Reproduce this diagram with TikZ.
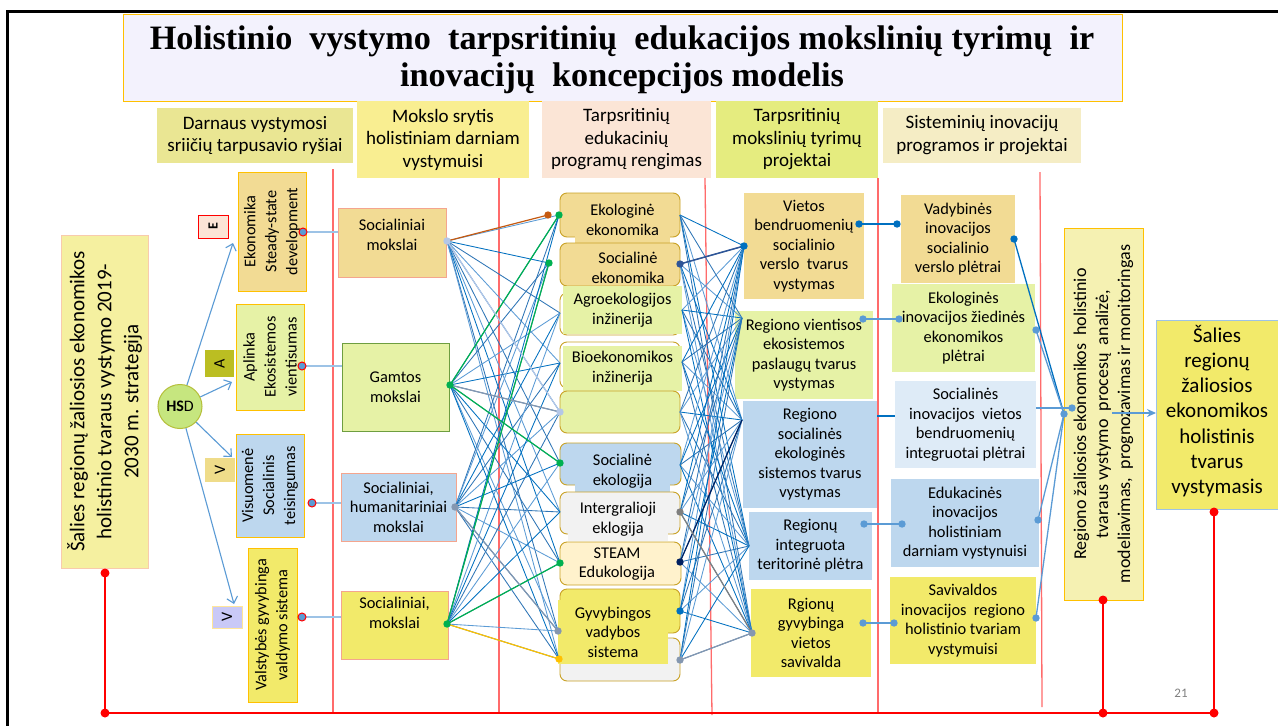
\documentclass[tikz,border=0pt]{standalone}
\usepackage{fontspec}
\setmainfont{Carlito}
\newfontfamily\titlefont{Liberation Serif}
\usetikzlibrary{arrows.meta}
\definecolor{cTan}{HTML}{F2DB94}
\definecolor{cGrn}{HTML}{E6F2A6}
\definecolor{cBlu}{HTML}{BDD7EE}
\definecolor{cBluX}{HTML}{DEEBF7}
\definecolor{cYel}{HTML}{F2EA6A}
\definecolor{cGold}{HTML}{FFC000}
\definecolor{cSalm}{HTML}{F4A58E}
\definecolor{cPeach}{HTML}{FCE4D6}
\definecolor{cGryL}{HTML}{F2F2F2}
\definecolor{cCream}{HTML}{FFF2CC}
\definecolor{cTitle}{HTML}{F3F2FD}
\definecolor{cHa}{HTML}{EAE693}
\definecolor{cHb}{HTML}{F9EE91}
\definecolor{cHc}{HTML}{FBE5D6}
\definecolor{cHd}{HTML}{E5EC7F}
\definecolor{cHe}{HTML}{F5EDC5}
\definecolor{cStrat}{HTML}{F5F0A0}
\definecolor{cStratB}{HTML}{F8CBAD}
\definecolor{cTall}{HTML}{F5F1B2}
\definecolor{cHSD}{HTML}{C6E67F}
\definecolor{cHSDb}{HTML}{B5BF3A}
\definecolor{cOlive}{HTML}{BBBE22}
\definecolor{cVtan}{HTML}{EFDC8A}
\definecolor{cLav}{HTML}{C9C9F7}
\definecolor{cLavB}{HTML}{FFE699}
\definecolor{cGamB}{HTML}{6E9E40}
\definecolor{cRBord}{HTML}{C9A227}
\definecolor{ln0}{HTML}{2E75B6}
\definecolor{ln1}{HTML}{5B9BD5}
\definecolor{ln2}{HTML}{0070C0}
\definecolor{lnPale}{HTML}{9DC3E6}
\definecolor{cGreen}{HTML}{00B050}
\definecolor{cBrown}{HTML}{C55A11}
\definecolor{cNavy}{HTML}{002060}
\definecolor{cDark}{HTML}{2F5597}
\definecolor{cGray}{HTML}{7F7F7F}
\definecolor{cGrayB}{HTML}{8497B0}
\definecolor{cGrayL}{HTML}{B4C7E7}
\definecolor{cSep}{HTML}{FF6B6B}
\definecolor{cRed}{HTML}{FF0000}
\tikzset{
  bx/.style={inner sep=0pt, outer sep=0pt, align=center},
  fnt/.style={font=\fontsize{16.4}{19.5}\selectfont},
  hfnt/.style={font=\fontsize{19}{22.5}\selectfont},
  lfnt/.style={font=\fontsize{16.3}{21}\selectfont},
  rnd/.style={rounded corners=7pt, draw=cRBord, line width=0.9pt},
  sepline/.style={draw=cSep, line width=1.3pt},
  redline/.style={draw=cRed, line width=1.5pt},
  mesh/.style={line width=0.85pt},
  hl/.style={line width=1.2pt},
  arr/.style={draw=ln1, line width=1.1pt, -{Straight Barb[length=6pt,width=11pt]}},
  link/.style={line width=1.3pt},
}
\newcommand\mydot[2]{\fill[#1] (#2) circle (3.7pt);}
\newcommand\reddot[1]{\fill[cRed] (#1) circle (4.5pt);}
\newcommand\rbdot[1]{\filldraw[fill=ln1, draw=cRed, line width=1pt] (#1) circle (4pt);}
\begin{document}
\begin{tikzpicture}[x=1pt,y=-1pt]
\useasboundingbox (0,0) rectangle (1278,726);
\fill[white] (0,0) rectangle (1278,726);
\draw[line width=3pt] (7.5,726) -- (7.5,11.5) -- (1278,11.5);

% title
\node[bx, fill=cTitle, draw=cGold, line width=1pt, minimum width=999pt, minimum height=87pt] (title) at (622.5,57.5) {};
\node[bx, font=\titlefont\bfseries\fontsize{34.2}{37.5}\selectfont] (titlet) at (622,60)
  {Holistinio\ \ vystymo\ \ tarpsritinių\ \ edukacijos mokslinių tyrimų\ \ ir\\inovacijų\ \ koncepcijos modelis};

% headers
\node[bx,hfnt,fill=cHa,minimum width=196pt,minimum height=55pt] (h1) at (255,135.5) {Darnaus vystymosi\\sriičių tarpusavio ryšiai};
\node[bx,hfnt,fill=cHb,minimum width=172pt,minimum height=77pt] (h2) at (443,139.5) {Mokslo srytis\\holistiniam darniam\\vystymuisi};
\node[bx,hfnt,fill=cHc,minimum width=169pt,minimum height=77pt] (h3) at (626.5,139.5) {Tarpsritinių\\edukacinių\\programų rengimas};
\node[bx,hfnt,fill=cHd,minimum width=162pt,minimum height=77pt] (h4) at (797,139.5) {Tarpsritinių\\mokslinių tyrimų\\projektai};
\node[bx,hfnt,fill=cHe,minimum width=198pt,minimum height=55pt] (h5) at (982,135) {Sisteminių inovacijų\\programos ir projektai};

% separators
\draw[sepline] (333,169) -- (333,713);
\draw[sepline] (499,178) -- (499,713);
\draw[sepline] (705,178) -- (712,715);
\draw[sepline] (878,178) -- (878,713);
\draw[sepline] (1040,172) -- (1042,707);

% strategy box
\node[bx, rotate=90, fill=cStrat, draw=cStratB, line width=0.8pt, minimum width=333pt, minimum height=87pt,
  font=\fontsize{21}{27}\selectfont] (strat) at (104.5,401.5)
  {Šalies regionų žaliosios ekonomikos\\holistinio tvaraus vystymo 2019-\\2030 m. strategija};

% HSD
\node[circle, fill=cHSD, draw=cHSDb, line width=1pt, minimum size=44pt, inner sep=0pt,
  font=\fontsize{16}{18}\selectfont] (hsd) at (180,406.5) {\textbf{HS}D};

% letter boxes
\node[bx, rotate=90, fill=cPeach, draw=cRed, line width=1pt, minimum width=23pt, minimum height=30pt, font=\bfseries\fontsize{14}{16}\selectfont] (lE) at (213,226.5) {E};
\node[bx, rotate=90, fill=cOlive, minimum width=27pt, minimum height=29pt, font=\fontsize{16}{18}\selectfont] (lA) at (219.5,363.5) {A};
\node[bx, rotate=90, fill=cVtan, minimum width=24pt, minimum height=30pt, font=\fontsize{16}{18}\selectfont] (lV) at (220,470) {V};
\node[bx, rotate=90, fill=cLav, draw=cLavB, line width=0.8pt, minimum width=22pt, minimum height=30pt, font=\fontsize{16}{18}\selectfont] (lW) at (227,617) {V};

% domain boxes
\node[bx, lfnt, rotate=90, fill=cTan, draw=cGold, line width=1pt, minimum width=119pt, minimum height=68pt] (dE) at (272,231.5) {Ekonomika\\Steady-state\\development};
\node[bx, lfnt, rotate=90, fill=cGrn, draw=cGold, line width=1pt, minimum width=106pt, minimum height=68pt] (dA) at (270,357) {Aplinka\\Ekosistemos\\vientisumas};
\node[bx, lfnt, rotate=90, fill=cBlu, draw=cGold, line width=1pt, minimum width=103pt, minimum height=68pt] (dV) at (270,485.5) {Visuomenė\\Socialinis\\teisingumas};
\node[bx, lfnt, rotate=90, fill=cYel, draw=cGold, line width=1pt, minimum width=154pt, minimum height=49pt] (dS) at (272.5,625) {Valstybės gyvybinga\\valdymo sistema};

% HSD arrows
\coordinate (tE) at (233,243);
\coordinate (tA) at (232,382);
\coordinate (tV) at (232,457);
\coordinate (tW) at (234,604);
\draw[arr] (hsd) -- (tE);
\draw[arr] (hsd) -- (tA);
\draw[arr] (hsd) -- (tV);
\draw[arr] (hsd) -- (tW);

% column 2 boxes
\node[bx, fill=cTan, draw=cSalm, line width=1pt, minimum width=108pt, minimum height=69pt] (m1) at (392,242.5) {};
\node[bx, fnt] (m1t) at (392,235) {Socialiniai\\mokslai};
\node[bx, fnt, fill=cGrn, draw=cGamB, line width=1pt, minimum width=107pt, minimum height=88pt] (m2) at (395.5,387) {Gamtos\\mokslai};
\node[bx, fnt, fill=cBlu, draw=cSalm, line width=1pt, minimum width=115pt, minimum height=68pt] (m3) at (398.5,507) {Socialiniai,\\humanitariniai\\mokslai};
\node[bx, fill=cYel, draw=cSalm, line width=1pt, minimum width=107pt, minimum height=68pt] (m4) at (394.5,625) {};
\node[bx, fnt] (m4t) at (394.5,613) {Socialiniai,\\mokslai};

% links domain -> column 2
\coordinate (e1) at (303,232); \coordinate (e2) at (302,366);
\coordinate (e3) at (312,503); \coordinate (e4) at (302,617);
\draw[link, lnPale] (e1) -- (m1.west |- e1);
\draw[link, lnPale] (e2) -- (m2.west |- e2);
\draw[link, lnPale] (e3) -- (m3.west |- e3);
\draw[link, lnPale] (e4) -- (m4.west |- e4);
\rbdot{e1} \rbdot{e2} \rbdot{e3} \rbdot{e4}

% column 3 boxes
\draw[rnd, fill=cTan] (560,193) rectangle (680,237);
\node[bx, fnt, fill=cTan, minimum width=95pt, minimum height=46pt] (p1) at (622.5,220) {Ekologinė\\ekonomika};
\draw[rnd, fill=cTan] (560,243) rectangle (680,286);
\node[bx, fnt] (p2) at (628,268) {Socialinė\\ekonomika};
\draw[rnd, fill=white] (560,293) rectangle (680,335);
\node[bx, fnt, fill=cGrn, minimum width=119pt, minimum height=48pt] (p3) at (622.5,310) {Agroekologijos\\inžinerija};
\draw[rnd, fill=white] (560,342) rectangle (680,388);
\node[bx, fnt, fill=cGrn, minimum width=119pt, minimum height=45pt] (p4) at (622.5,368) {Bioekonomikos\\inžinerija};
\draw[rnd, fill=cGrn] (560,391) rectangle (680,433);
\draw[rnd, fill=cBlu] (560,443) rectangle (681,485);
\node[bx, fnt, fill=cBlu, minimum width=95pt, minimum height=46pt] (p6) at (622.5,471) {Socialinė\\ekologija};
\draw[rnd, fill=cGryL] (560,492) rectangle (680,534);
\node[bx, fnt, fill=cGryL, minimum width=100pt, minimum height=44pt] (p7) at (618,519) {Intergralioji\\eklogija};
\draw[rnd, fill=cCream] (560,542) rectangle (681,585);
\node[bx, fnt] (p8) at (617,564) {STEAM\\Edukologija};
\draw[rnd, fill=cYel] (560,589) rectangle (680,633);
\draw[rnd, fill=cGryL] (560,638) rectangle (680,681);
\node[bx, fnt, fill=cYel, minimum width=110pt, minimum height=64pt] (p9) at (613,632) {Gyvybingos\\vadybos\\sistema};

% column 4 boxes
\node[bx, fnt, fill=cTan, minimum width=120pt, minimum height=106pt] (q1) at (804,246) {Vietos\\bendruomenių\\socialinio\\verslo\ \ tvarus\\vystymas};
\node[bx, fnt, fill=cGrn, minimum width=138pt, minimum height=88pt] (q2) at (804,355) {Regiono vientisos\\ekosistemos\\paslaugų tvarus\\vystymas};
\node[bx, fnt, fill=cBlu, minimum width=134pt, minimum height=107pt] (q3) at (810,454.5) {Regiono\\socialinės\\ekologinės\\sistemos tvarus\\vystymas};
\node[bx, fnt, fill=cBlu, minimum width=123pt, minimum height=68pt] (q4) at (810.5,546) {Regionų\\integruota\\teritorinė plėtra};
\node[bx, fnt, fill=cYel, minimum width=120pt, minimum height=88pt] (q5) at (811,633) {Rgionų\\gyvybinga\\vietos\\savivalda};

% column 5 boxes
\node[bx, fnt, fill=cTan, minimum width=114pt, minimum height=88pt] (r1) at (958,239) {Vadybinės\\inovacijos\\socialinio\\verslo plėtrai};
\node[bx, fnt, fill=cGrn, minimum width=143pt, minimum height=88pt] (r2) at (963.5,328) {Ekologinės\\inovacijos žiedinės\\ekonomikos\\plėtrai};
\node[bx, fnt, fill=cBluX, minimum width=141pt, minimum height=87pt] (r3) at (965.5,424.5) {Socialinės\\inovacijos\ \ vietos\\bendruomenių\\integruotai plėtrai};
\node[bx, fnt, fill=cBlu, minimum width=148pt, minimum height=88pt] (r4) at (965,523) {Edukacinės\\inovacijos\\holistiniam\\darniam vystynuisi};
\node[bx, fnt, fill=cYel, minimum width=146pt, minimum height=87pt] (r5) at (963,620.5) {Savivaldos\\inovacijos\ \ regiono\\holistinio tvariam\\vystymuisi};

% tall analysis box and final box
\node[bx, rotate=90, fill=cTall, draw=cGold, line width=1pt, minimum width=372pt, minimum height=79pt,
  font=\fontsize{18}{22}\selectfont] (tall) at (1103.5,414)
  {Regiono žaliosios ekonomikos\ \ holistinio\\tvaraus vystymo\ \ procesų\ \ analizė,\\modeliavimas,\ \ prognozavimas ir monitoringas};
\node[bx, fill=cYel, draw=lnPale, line width=1pt, minimum width=122pt, minimum height=189pt] (fin) at (1217,414.5) {};
\node[bx, font=\fontsize{21}{25.3}\selectfont] (fint) at (1217,411) {Šalies\\regionų\\žaliosios\\ekonomikos\\holistinis\\tvarus\\vystymasis};

% mesh anchors
\coordinate (a1) at (447,241); \coordinate (a2) at (450,385);
\coordinate (a3) at (455,507); \coordinate (a4) at (447,624);
\coordinate (b0) at (548,215);
\coordinate (b1) at (559,215); \coordinate (b2) at (549,263);
\coordinate (b3) at (560,313); \coordinate (b4) at (560,363);
\coordinate (b5) at (560,412); \coordinate (b6) at (560,463);
\coordinate (b7) at (560,512); \coordinate (b8) at (560,563);
\coordinate (b9) at (558,631); \coordinate (b10) at (559,659);
\coordinate (c1) at (680,215); \coordinate (c2) at (680,264);
\coordinate (c3) at (682,310); \coordinate (c4) at (682,362);
\coordinate (c5) at (680,412); \coordinate (c6) at (680,465);
\coordinate (c7) at (680,512); \coordinate (c8) at (680,562);
\coordinate (c9) at (680,611); \coordinate (c10) at (680,660);
\coordinate (d1) at (744,246); \coordinate (d2) at (742,318);
\coordinate (d3) at (742,420); \coordinate (d4) at (749,546);
\coordinate (d5) at (752,633);

% mesh column 2 -> column 3
\foreach \s/\k in {a1/0,a2/1,a3/2,a4/1}{
  \foreach \t [count=\i] in {b1,b2,b3,b4,b5,b6,b7,b8,b9,b10}{
    \pgfmathtruncatemacro\m{mod(\i+\k,3)}
    \draw[mesh, draw=ln\m] (\s) -- (\t);
  }
}
% mesh column 3 -> column 4
\foreach \s [count=\j] in {c1,c2,c3,c4,c5,c6,c7,c8,c9,c10}{
  \foreach \t [count=\i] in {d1,d2,d3,d4,d5}{
    \pgfmathtruncatemacro\m{mod(\i+\j,3)}
    \draw[mesh, draw=ln\m] (\s) -- (\t);
  }
}
% highlighted connectors
\draw[hl, cBrown] (a1) -- (b0);
\draw[hl, cGreen] (a2) -- (b1);
\draw[hl, cGreen] (a4) -- (b2);
\draw[hl, cGrayL] (a1) -- (b5);
\draw[hl, cGrayB] (a2) -- (b5);
\draw[hl, cGreen] (a2) -- (b6);
\draw[hl, cGreen] (a4) -- (b8);
\draw[hl, cGold] (a4) -- (b10);
\draw[hl, cGrayB] (a3) -- (b9);
\draw[hl, cDark, line width=1.5pt] (c2) -- (d1);
\draw[hl, cNavy] (c8) -- (d3);
\draw[hl, cGray] (c7) -- (d5);
\draw[hl, cGrayB] (c10) -- (d5);

% dots
\mydot{cGrayL}{a1} \mydot{cGreen}{a2} \mydot{cGrayB}{a3} \mydot{cGreen}{a4}
\mydot{cBrown}{b0} \mydot{cGreen}{b1} \mydot{cGreen}{b2} \mydot{cGrayL}{b5}
\mydot{cGreen}{b6} \mydot{cGreen}{b8} \mydot{cGrayB}{b9} \mydot{cGold}{b10}
\mydot{cDark}{c2} \mydot{cGray}{c7} \mydot{cNavy}{c8} \mydot{ln2}{c9} \mydot{cGrayB}{c10}
\mydot{ln2}{d1} \mydot{cGrayB}{d5}

% column 4 -> column 5
\coordinate (k1) at (859,224); \coordinate (n1) at (897,224);
\coordinate (k2) at (863,319); \coordinate (n2) at (899,319);
\coordinate (k4) at (864,524); \coordinate (n4) at (902,524);
\coordinate (k5) at (863,623); \coordinate (n5) at (894,623);
\draw[link, ln2] (k1) -- (n1);
\draw[link, ln1] (k2) -- (n2);
\draw[link, ln2] (q3.east |- 0,416) -- (r3.west |- 0,416);
\draw[link, ln1] (k4) -- (n4);
\draw[link, ln1] (k5) -- (n5);
\mydot{ln2}{k1} \mydot{ln2}{n1} \mydot{ln1}{k2} \mydot{ln1}{n2}
\mydot{ln1}{k4} \mydot{ln1}{n4} \mydot{ln1}{k5} \mydot{ln1}{n5}

% column 5 -> tall box
\coordinate (g1) at (1014,239); \coordinate (g2) at (1036,330);
\coordinate (g4) at (1038,520); \coordinate (g5) at (1036,618);
\coordinate (z1) at (1064,414); \coordinate (z2) at (1072,408);
\draw[link, ln2] (g1) -- (z1);
\draw[link, ln1] (g2) -- (z1);
\draw[link, ln1] (r3.east |- z2) -- (z2);
\draw[link, ln1] (g4) -- (z1);
\draw[link, ln1] (g5) -- (z1);
\mydot{ln2}{g1} \mydot{ln1}{g2} \mydot{ln1}{g4} \mydot{ln1}{g5}
\mydot{ln1}{z1} \mydot{ln1}{z2}

% arrow to final box
\coordinate (ta) at (1112,413);
\draw[draw=ln1, line width=1.2pt, -{Stealth[length=9pt,width=8pt]}] (ta) -- (fin.west |- ta);

% red base lines
\coordinate (s1) at (105,573); \coordinate (s2) at (105,713);
\coordinate (t1) at (1103,600); \coordinate (t2) at (1103,713);
\coordinate (f1) at (1214,512); \coordinate (f2) at (1214,713);
\draw[redline] (s1) -- (s2) -- (f2) -- (f1);
\draw[redline] (t1) -- (t2);
\reddot{s1} \reddot{s2} \reddot{t1} \reddot{t2} \reddot{f1} \reddot{f2}

% page number
\node[font=\fontsize{13}{15}\selectfont, text=gray] (pg) at (1181,693) {21};
\end{tikzpicture}
\end{document}
